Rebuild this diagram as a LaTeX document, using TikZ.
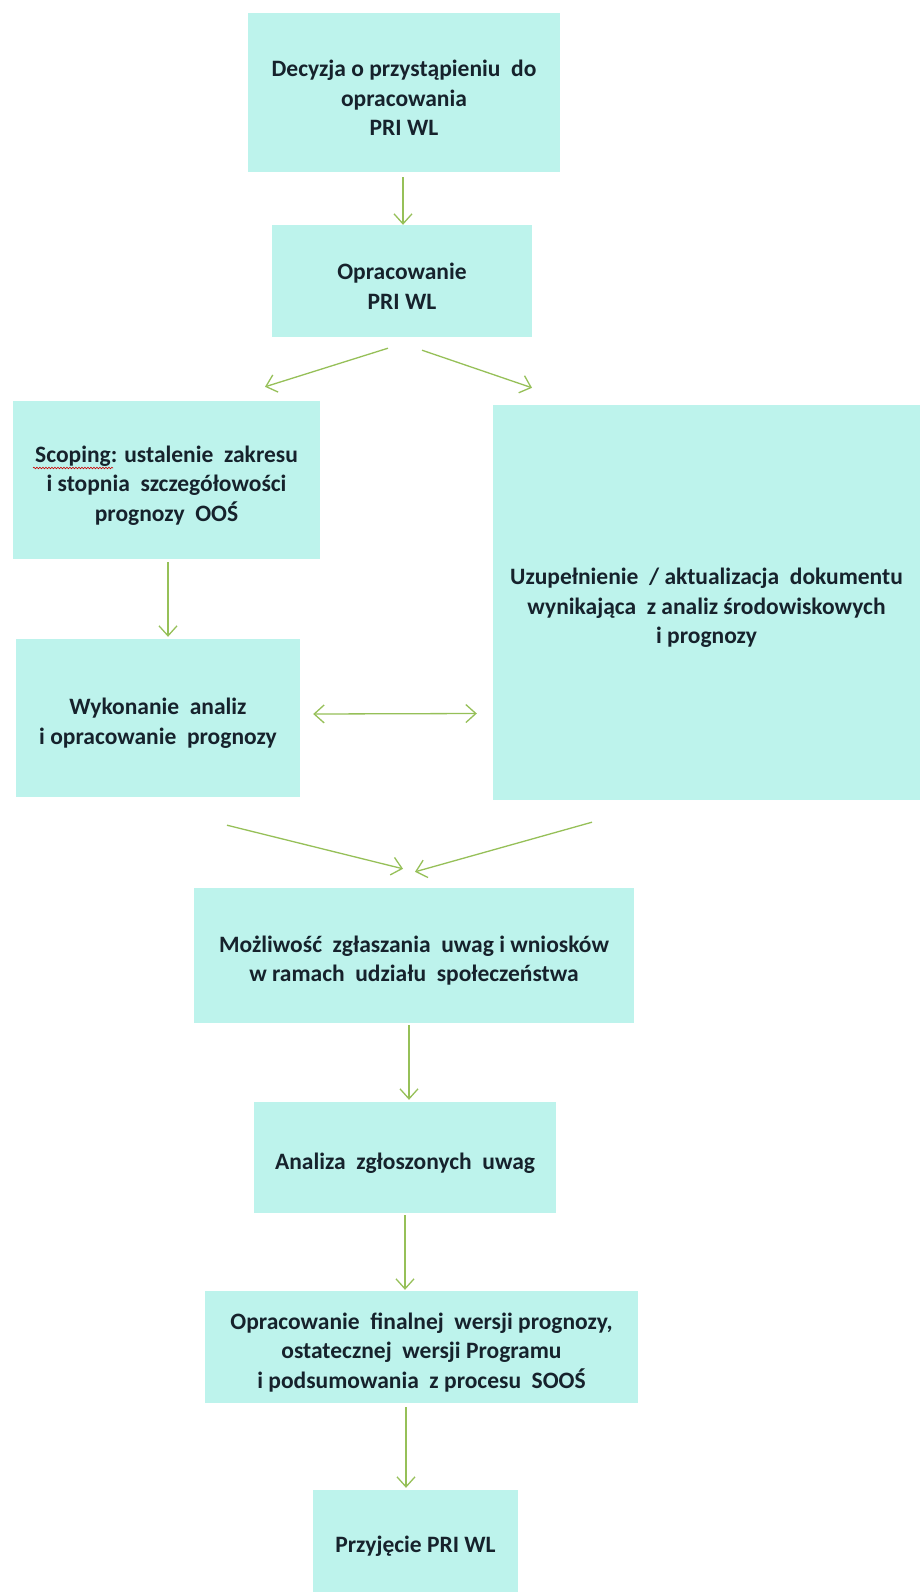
\documentclass[tikz,border=0pt]{standalone}
\usepackage{fontspec}
\setmainfont{Carlito}
\usetikzlibrary{arrows.meta,calc,decorations.pathmorphing}
\definecolor{boxfill}{RGB}{189,243,236}
\definecolor{arrgreen}{RGB}{150,192,88}
\definecolor{txtdark}{RGB}{22,34,44}
\newcommand{\gorny}{\rule{0pt}{27pt}}
\tikzset{
  krok/.style={fill=boxfill,draw=none,inner sep=0pt,align=center,text=txtdark,
    font=\fontsize{23.5}{29.5}\selectfont\bfseries},
  arr/.style={draw=arrgreen,line width=1.3pt,-{Straight Barb[length=10pt,width=18pt]}},
  arrboth/.style={draw=arrgreen,line width=1.3pt,{Straight Barb[length=10pt,width=18pt]}-{Straight Barb[length=10pt,width=18pt]}}
}
\begin{document}
\begin{tikzpicture}[x=1pt,y=-1pt]
\useasboundingbox (0,0) rectangle (922,1592);
\fill[white] (0,0) rectangle (922,1592);

%Shape: Rectangle [dec]
\node[krok,minimum width=312,minimum height=159] (dec) at (404,92.5) {\gorny Decyzja o przystąpieniu\ \ do\\opracowania\\PRI WL};
%Shape: Rectangle [opr]
\node[krok,minimum width=260,minimum height=112] (opr) at (402,281) {\gorny Opracowanie\\PRI WL};
%Shape: Rectangle [scop]
\node[krok,minimum width=307,minimum height=158] (scop) at (166.5,480) {\gorny Scoping: ustalenie\ \ zakresu\\i stopnia\ \ szczegółowości\\prognozy\ \ OOŚ};
%Shape: Rectangle [wyk]
\node[krok,minimum width=284,minimum height=158] (wyk) at (158,718) {\gorny Wykonanie\ \ analiz\\i opracowanie\ \ prognozy};
%Shape: Rectangle [uzu]
\node[krok,minimum width=427,minimum height=395] (uzu) at (706.5,602.5) {\gorny Uzupełnienie\ \ / aktualizacja\ \ dokumentu\\wynikająca\ \ z analiz środowiskowych\\i prognozy};
%Shape: Rectangle [moz]
\node[krok,minimum width=440,minimum height=135] (moz) at (414,955.5) {\gorny Możliwość\ \ zgłaszania\ \ uwag i wniosków\\w ramach\ \ udziału\ \ społeczeństwa};
%Shape: Rectangle [ana]
\node[krok,minimum width=302,minimum height=111] (ana) at (405,1157.5) {\gorny Analiza\ \ zgłoszonych\ \ uwag};
%Shape: Rectangle [fin]
\node[krok,minimum width=433,minimum height=112] (fin) at (421.5,1347) {\gorny Opracowanie\ \ finalnej\ \ wersji prognozy,\\ostatecznej\ \ wersji Programu\\i podsumowania\ \ z procesu\ \ SOOŚ};
%Shape: Rectangle [prz]
\node[krok,minimum width=205,minimum height=102] (prz) at (415.5,1541) {\gorny Przyjęcie PRI WL};

%spell check underline
\draw[red!80!black,line width=0.6pt,decorate,decoration={snake,amplitude=0.8pt,segment length=3pt}] (33,468) -- (113,468);

%Straight Lines
\draw[arr] ([shift={(-1,5)}]dec.south) -- ([shift={(1,0)}]opr.north);
\draw[arr] ([shift={(-14,11)}]opr.south) -- ([shift={(98.5,-14)}]scop.north);
\draw[arr] ([shift={(20,13)}]opr.south) -- ([shift={(-174.5,-17)}]uzu.north);
\draw[arr] ([shift={(1.5,3)}]scop.south) -- ([shift={(10,-2)}]wyk.north);
\draw[arrboth] ([shift={(13,-4)}]wyk.east) -- ([shift={(-16,111)}]uzu.west);
\draw[arr] ([shift={(69,28)}]wyk.south) -- ([shift={(-11,-19)}]moz.north);
\draw[arr] ([shift={(-114.5,22)}]uzu.south) -- ([shift={(1,-16)}]moz.north);
\draw[arr] ([shift={(-5,2)}]moz.south) -- ([shift={(4,-2)}]ana.north);
\draw[arr] ([shift={(0,2)}]ana.south) -- ([shift={(-16.5,-1)}]fin.north);
\draw[arr] ([shift={(-15.5,4)}]fin.south) -- ([shift={(-9.5,-2)}]prz.north);
\end{tikzpicture}
\end{document}
